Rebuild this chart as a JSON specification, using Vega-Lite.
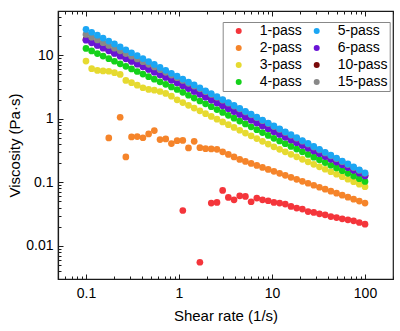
{
"$schema": "https://vega.github.io/schema/vega-lite/v6.json",
"width": 335, "height": 268,
"autosize": {"type": "none"},
"padding": {"left": 58, "top": 11, "right": 7, "bottom": 52},
"config": {
 "font": "Liberation Sans",
 "view": {"stroke": "#1a1a1a", "strokeWidth": 1.2},
 "axis": {"grid": false, "domainColor": "#1a1a1a", "domainWidth": 1.2, "tickColor": "#1a1a1a", "tickWidth": 1, "labelColor": "black", "titleColor": "black", "labelFontSize": 14, "titleFontSize": 15, "titleFontWeight": "normal", "labelFont": "Liberation Sans", "titleFont": "Liberation Sans"}
},
"data": {"values": [
{"s":"1-pass","x":1.099,"y":0.03597},{"s":"1-pass","x":1.677,"y":0.005508},{"s":"1-pass","x":2.223,"y":0.0471},{"s":"1-pass","x":2.56,"y":0.04819},{"s":"1-pass","x":2.947,"y":0.07447},{"s":"1-pass","x":3.393,"y":0.05781},{"s":"1-pass","x":3.907,"y":0.05309},{"s":"1-pass","x":4.498,"y":0.06138},{"s":"1-pass","x":5.179,"y":0.05998},{"s":"1-pass","x":5.964,"y":0.04943},{"s":"1-pass","x":6.866,"y":0.05649},{"s":"1-pass","x":7.906,"y":0.05309},{"s":"1-pass","x":9.103,"y":0.05129},{"s":"1-pass","x":10.48,"y":0.04819},{"s":"1-pass","x":12.07,"y":0.0471},{"s":"1-pass","x":13.89,"y":0.04539},{"s":"1-pass","x":16,"y":0.04169},{"s":"1-pass","x":18.42,"y":0.03926},{"s":"1-pass","x":21.21,"y":0.03784},{"s":"1-pass","x":24.42,"y":0.03467},{"s":"1-pass","x":28.12,"y":0.0335},{"s":"1-pass","x":32.37,"y":0.03192},{"s":"1-pass","x":37.28,"y":0.03076},{"s":"1-pass","x":42.92,"y":0.02891},{"s":"1-pass","x":49.42,"y":0.02786},{"s":"1-pass","x":56.9,"y":0.02661},{"s":"1-pass","x":65.51,"y":0.02564},{"s":"1-pass","x":75.43,"y":0.02472},{"s":"1-pass","x":86.85,"y":0.02328},{"s":"1-pass","x":100,"y":0.02193},
{"s":"2-pass","x":0.1758,"y":0.5012},{"s":"2-pass","x":0.233,"y":1.059},{"s":"2-pass","x":0.2683,"y":0.2512},{"s":"2-pass","x":0.3089,"y":0.52},{"s":"2-pass","x":0.3556,"y":0.5248},{"s":"2-pass","x":0.4095,"y":0.5035},{"s":"2-pass","x":0.4715,"y":0.5794},{"s":"2-pass","x":0.5429,"y":0.6531},{"s":"2-pass","x":0.6251,"y":0.471},{"s":"2-pass","x":0.7197,"y":0.4831},{"s":"2-pass","x":0.8286,"y":0.4074},{"s":"2-pass","x":0.9541,"y":0.4539},{"s":"2-pass","x":1.099,"y":0.4571},{"s":"2-pass","x":1.265,"y":0.3483},{"s":"2-pass","x":1.456,"y":0.4426},{"s":"2-pass","x":1.677,"y":0.3508},{"s":"2-pass","x":1.931,"y":0.3388},{"s":"2-pass","x":2.223,"y":0.3357},{"s":"2-pass","x":2.56,"y":0.3311},{"s":"2-pass","x":2.947,"y":0.302},{"s":"2-pass","x":3.393,"y":0.2754},{"s":"2-pass","x":3.907,"y":0.2512},{"s":"2-pass","x":4.498,"y":0.2291},{"s":"2-pass","x":5.179,"y":0.2132},{"s":"2-pass","x":5.964,"y":0.1984},{"s":"2-pass","x":6.866,"y":0.1846},{"s":"2-pass","x":7.906,"y":0.1718},{"s":"2-pass","x":9.103,"y":0.1599},{"s":"2-pass","x":10.48,"y":0.1488},{"s":"2-pass","x":12.07,"y":0.1384},{"s":"2-pass","x":13.89,"y":0.1288},{"s":"2-pass","x":16,"y":0.1199},{"s":"2-pass","x":18.42,"y":0.1116},{"s":"2-pass","x":21.21,"y":0.1038},{"s":"2-pass","x":24.42,"y":0.09665},{"s":"2-pass","x":28.12,"y":0.08995},{"s":"2-pass","x":32.37,"y":0.0837},{"s":"2-pass","x":37.28,"y":0.07788},{"s":"2-pass","x":42.92,"y":0.07248},{"s":"2-pass","x":49.42,"y":0.06745},{"s":"2-pass","x":56.9,"y":0.06277},{"s":"2-pass","x":65.51,"y":0.05841},{"s":"2-pass","x":75.43,"y":0.05435},{"s":"2-pass","x":86.85,"y":0.05059},{"s":"2-pass","x":100,"y":0.04708},
{"s":"3-pass","x":0.1,"y":8.128},{"s":"3-pass","x":0.1151,"y":6.166},{"s":"3-pass","x":0.1326,"y":5.781},{"s":"3-pass","x":0.1526,"y":5.689},{"s":"3-pass","x":0.1758,"y":5.623},{"s":"3-pass","x":0.2024,"y":5.333},{"s":"3-pass","x":0.233,"y":5.012},{"s":"3-pass","x":0.2683,"y":4.027},{"s":"3-pass","x":0.3089,"y":3.707},{"s":"3-pass","x":0.3556,"y":3.396},{"s":"3-pass","x":0.4095,"y":3.09},{"s":"3-pass","x":0.4715,"y":2.904},{"s":"3-pass","x":0.5429,"y":2.831},{"s":"3-pass","x":0.6251,"y":2.698},{"s":"3-pass","x":0.7197,"y":2.512},{"s":"3-pass","x":0.8286,"y":2.275},{"s":"3-pass","x":0.9541,"y":1.995},{"s":"3-pass","x":1.099,"y":1.806},{"s":"3-pass","x":1.265,"y":1.634},{"s":"3-pass","x":1.456,"y":1.477},{"s":"3-pass","x":1.677,"y":1.336},{"s":"3-pass","x":1.931,"y":1.208},{"s":"3-pass","x":2.223,"y":1.093},{"s":"3-pass","x":2.56,"y":0.9886},{"s":"3-pass","x":2.947,"y":0.8941},{"s":"3-pass","x":3.393,"y":0.8087},{"s":"3-pass","x":3.907,"y":0.7313},{"s":"3-pass","x":4.498,"y":0.6613},{"s":"3-pass","x":5.179,"y":0.598},{"s":"3-pass","x":5.964,"y":0.5409},{"s":"3-pass","x":6.866,"y":0.4894},{"s":"3-pass","x":7.906,"y":0.4426},{"s":"3-pass","x":9.103,"y":0.4002},{"s":"3-pass","x":10.48,"y":0.362},{"s":"3-pass","x":12.07,"y":0.3308},{"s":"3-pass","x":13.89,"y":0.3021},{"s":"3-pass","x":16,"y":0.2761},{"s":"3-pass","x":18.42,"y":0.2522},{"s":"3-pass","x":21.21,"y":0.2305},{"s":"3-pass","x":24.42,"y":0.2105},{"s":"3-pass","x":28.12,"y":0.1923},{"s":"3-pass","x":32.37,"y":0.1758},{"s":"3-pass","x":37.28,"y":0.1606},{"s":"3-pass","x":42.92,"y":0.1467},{"s":"3-pass","x":49.42,"y":0.134},{"s":"3-pass","x":56.9,"y":0.1225},{"s":"3-pass","x":65.51,"y":0.1119},{"s":"3-pass","x":75.43,"y":0.1022},{"s":"3-pass","x":86.85,"y":0.09339},{"s":"3-pass","x":100,"y":0.08533},
{"s":"4-pass","x":0.1,"y":12.88},{"s":"4-pass","x":0.1151,"y":11.74},{"s":"4-pass","x":0.1326,"y":10.69},{"s":"4-pass","x":0.1526,"y":9.741},{"s":"4-pass","x":0.1758,"y":8.875},{"s":"4-pass","x":0.2024,"y":8.083},{"s":"4-pass","x":0.233,"y":7.364},{"s":"4-pass","x":0.2683,"y":6.71},{"s":"4-pass","x":0.3089,"y":6.112},{"s":"4-pass","x":0.3556,"y":5.568},{"s":"4-pass","x":0.4095,"y":5.073},{"s":"4-pass","x":0.4715,"y":4.622},{"s":"4-pass","x":0.5429,"y":4.21},{"s":"4-pass","x":0.6251,"y":3.835},{"s":"4-pass","x":0.7197,"y":3.494},{"s":"4-pass","x":0.8286,"y":3.184},{"s":"4-pass","x":0.9541,"y":2.9},{"s":"4-pass","x":1.099,"y":2.614},{"s":"4-pass","x":1.265,"y":2.355},{"s":"4-pass","x":1.456,"y":2.122},{"s":"4-pass","x":1.677,"y":1.912},{"s":"4-pass","x":1.931,"y":1.723},{"s":"4-pass","x":2.223,"y":1.553},{"s":"4-pass","x":2.56,"y":1.399},{"s":"4-pass","x":2.947,"y":1.261},{"s":"4-pass","x":3.393,"y":1.136},{"s":"4-pass","x":3.907,"y":1.024},{"s":"4-pass","x":4.498,"y":0.9226},{"s":"4-pass","x":5.179,"y":0.8315},{"s":"4-pass","x":5.964,"y":0.7494},{"s":"4-pass","x":6.866,"y":0.6751},{"s":"4-pass","x":7.906,"y":0.6084},{"s":"4-pass","x":9.103,"y":0.5482},{"s":"4-pass","x":10.48,"y":0.494},{"s":"4-pass","x":12.07,"y":0.4478},{"s":"4-pass","x":13.89,"y":0.4062},{"s":"4-pass","x":16,"y":0.3684},{"s":"4-pass","x":18.42,"y":0.3341},{"s":"4-pass","x":21.21,"y":0.3029},{"s":"4-pass","x":24.42,"y":0.2747},{"s":"4-pass","x":28.12,"y":0.2491},{"s":"4-pass","x":32.37,"y":0.2259},{"s":"4-pass","x":37.28,"y":0.2048},{"s":"4-pass","x":42.92,"y":0.1857},{"s":"4-pass","x":49.42,"y":0.1684},{"s":"4-pass","x":56.9,"y":0.1528},{"s":"4-pass","x":65.51,"y":0.1385},{"s":"4-pass","x":75.43,"y":0.1256},{"s":"4-pass","x":86.85,"y":0.1139},{"s":"4-pass","x":100,"y":0.1033},
{"s":"10-pass","x":0.1,"y":17.73},{"s":"10-pass","x":0.1151,"y":16.1},{"s":"10-pass","x":0.1326,"y":14.61},{"s":"10-pass","x":0.1526,"y":13.26},{"s":"10-pass","x":0.1758,"y":12.04},{"s":"10-pass","x":0.2024,"y":10.92},{"s":"10-pass","x":0.233,"y":9.917},{"s":"10-pass","x":0.2683,"y":9.0},{"s":"10-pass","x":0.3089,"y":8.169},{"s":"10-pass","x":0.3556,"y":7.416},{"s":"10-pass","x":0.4095,"y":6.731},{"s":"10-pass","x":0.4715,"y":6.113},{"s":"10-pass","x":0.5429,"y":5.548},{"s":"10-pass","x":0.6251,"y":5.036},{"s":"10-pass","x":0.7197,"y":4.571},{"s":"10-pass","x":0.8286,"y":4.149},{"s":"10-pass","x":0.9541,"y":3.767},{"s":"10-pass","x":1.099,"y":3.395},{"s":"10-pass","x":1.265,"y":3.059},{"s":"10-pass","x":1.456,"y":2.756},{"s":"10-pass","x":1.677,"y":2.484},{"s":"10-pass","x":1.931,"y":2.238},{"s":"10-pass","x":2.223,"y":2.017},{"s":"10-pass","x":2.56,"y":1.818},{"s":"10-pass","x":2.947,"y":1.638},{"s":"10-pass","x":3.393,"y":1.476},{"s":"10-pass","x":3.907,"y":1.33},{"s":"10-pass","x":4.498,"y":1.199},{"s":"10-pass","x":5.179,"y":1.08},{"s":"10-pass","x":5.964,"y":0.9732},{"s":"10-pass","x":6.866,"y":0.8768},{"s":"10-pass","x":7.906,"y":0.7901},{"s":"10-pass","x":9.103,"y":0.7121},{"s":"10-pass","x":10.48,"y":0.6416},{"s":"10-pass","x":12.07,"y":0.5804},{"s":"10-pass","x":13.89,"y":0.5249},{"s":"10-pass","x":16,"y":0.4747},{"s":"10-pass","x":18.42,"y":0.4293},{"s":"10-pass","x":21.21,"y":0.3883},{"s":"10-pass","x":24.42,"y":0.3512},{"s":"10-pass","x":28.12,"y":0.3176},{"s":"10-pass","x":32.37,"y":0.2874},{"s":"10-pass","x":37.28,"y":0.2599},{"s":"10-pass","x":42.92,"y":0.2351},{"s":"10-pass","x":49.42,"y":0.2127},{"s":"10-pass","x":56.9,"y":0.1924},{"s":"10-pass","x":65.51,"y":0.1739},{"s":"10-pass","x":75.43,"y":0.1574},{"s":"10-pass","x":86.85,"y":0.1423},{"s":"10-pass","x":100,"y":0.1287},
{"s":"6-pass","x":0.1,"y":17.38},{"s":"6-pass","x":0.1151,"y":15.78},{"s":"6-pass","x":0.1326,"y":14.32},{"s":"6-pass","x":0.1526,"y":13.0},{"s":"6-pass","x":0.1758,"y":11.8},{"s":"6-pass","x":0.2024,"y":10.71},{"s":"6-pass","x":0.233,"y":9.723},{"s":"6-pass","x":0.2683,"y":8.824},{"s":"6-pass","x":0.3089,"y":8.009},{"s":"6-pass","x":0.3556,"y":7.271},{"s":"6-pass","x":0.4095,"y":6.599},{"s":"6-pass","x":0.4715,"y":5.993},{"s":"6-pass","x":0.5429,"y":5.439},{"s":"6-pass","x":0.6251,"y":4.937},{"s":"6-pass","x":0.7197,"y":4.481},{"s":"6-pass","x":0.8286,"y":4.068},{"s":"6-pass","x":0.9541,"y":3.693},{"s":"6-pass","x":1.099,"y":3.328},{"s":"6-pass","x":1.265,"y":2.999},{"s":"6-pass","x":1.456,"y":2.702},{"s":"6-pass","x":1.677,"y":2.435},{"s":"6-pass","x":1.931,"y":2.194},{"s":"6-pass","x":2.223,"y":1.977},{"s":"6-pass","x":2.56,"y":1.782},{"s":"6-pass","x":2.947,"y":1.606},{"s":"6-pass","x":3.393,"y":1.447},{"s":"6-pass","x":3.907,"y":1.304},{"s":"6-pass","x":4.498,"y":1.175},{"s":"6-pass","x":5.179,"y":1.059},{"s":"6-pass","x":5.964,"y":0.9541},{"s":"6-pass","x":6.866,"y":0.8596},{"s":"6-pass","x":7.906,"y":0.7746},{"s":"6-pass","x":9.103,"y":0.6981},{"s":"6-pass","x":10.48,"y":0.629},{"s":"6-pass","x":12.07,"y":0.569},{"s":"6-pass","x":13.89,"y":0.5146},{"s":"6-pass","x":16,"y":0.4654},{"s":"6-pass","x":18.42,"y":0.4209},{"s":"6-pass","x":21.21,"y":0.3807},{"s":"6-pass","x":24.42,"y":0.3443},{"s":"6-pass","x":28.12,"y":0.3114},{"s":"6-pass","x":32.37,"y":0.2818},{"s":"6-pass","x":37.28,"y":0.2548},{"s":"6-pass","x":42.92,"y":0.2305},{"s":"6-pass","x":49.42,"y":0.2085},{"s":"6-pass","x":56.9,"y":0.1886},{"s":"6-pass","x":65.51,"y":0.1705},{"s":"6-pass","x":75.43,"y":0.1543},{"s":"6-pass","x":86.85,"y":0.1395},{"s":"6-pass","x":100,"y":0.1262},
{"s":"15-pass","x":0.1,"y":21.38},{"s":"15-pass","x":0.1151,"y":19.34},{"s":"15-pass","x":0.1326,"y":17.49},{"s":"15-pass","x":0.1526,"y":15.83},{"s":"15-pass","x":0.1758,"y":14.31},{"s":"15-pass","x":0.2024,"y":12.99},{"s":"15-pass","x":0.233,"y":11.78},{"s":"15-pass","x":0.2683,"y":10.68},{"s":"15-pass","x":0.3089,"y":9.691},{"s":"15-pass","x":0.3556,"y":8.793},{"s":"15-pass","x":0.4095,"y":7.962},{"s":"15-pass","x":0.4715,"y":7.224},{"s":"15-pass","x":0.5429,"y":6.558},{"s":"15-pass","x":0.6251,"y":5.951},{"s":"15-pass","x":0.7197,"y":5.402},{"s":"15-pass","x":0.8286,"y":4.892},{"s":"15-pass","x":0.9541,"y":4.44},{"s":"15-pass","x":1.099,"y":4.02},{"s":"15-pass","x":1.265,"y":3.632},{"s":"15-pass","x":1.456,"y":3.289},{"s":"15-pass","x":1.677,"y":2.972},{"s":"15-pass","x":1.931,"y":2.678},{"s":"15-pass","x":2.223,"y":2.42},{"s":"15-pass","x":2.56,"y":2.181},{"s":"15-pass","x":2.947,"y":1.966},{"s":"15-pass","x":3.393,"y":1.768},{"s":"15-pass","x":3.907,"y":1.59},{"s":"15-pass","x":4.498,"y":1.43},{"s":"15-pass","x":5.179,"y":1.286},{"s":"15-pass","x":5.964,"y":1.156},{"s":"15-pass","x":6.866,"y":1.04},{"s":"15-pass","x":7.906,"y":0.9352},{"s":"15-pass","x":9.103,"y":0.841},{"s":"15-pass","x":10.48,"y":0.7563},{"s":"15-pass","x":12.07,"y":0.6801},{"s":"15-pass","x":13.89,"y":0.6116},{"s":"15-pass","x":16,"y":0.5501},{"s":"15-pass","x":18.42,"y":0.4947},{"s":"15-pass","x":21.21,"y":0.4448},{"s":"15-pass","x":24.42,"y":0.4001},{"s":"15-pass","x":28.12,"y":0.3597},{"s":"15-pass","x":32.37,"y":0.3236},{"s":"15-pass","x":37.28,"y":0.2909},{"s":"15-pass","x":42.92,"y":0.2616},{"s":"15-pass","x":49.42,"y":0.2353},{"s":"15-pass","x":56.9,"y":0.2116},{"s":"15-pass","x":65.51,"y":0.1903},{"s":"15-pass","x":75.43,"y":0.1711},{"s":"15-pass","x":86.85,"y":0.1539},{"s":"15-pass","x":100,"y":0.1384},
{"s":"5-pass","x":0.1,"y":25.7},{"s":"5-pass","x":0.1151,"y":23.12},{"s":"5-pass","x":0.1326,"y":20.79},{"s":"5-pass","x":0.1526,"y":18.7},{"s":"5-pass","x":0.1758,"y":16.81},{"s":"5-pass","x":0.2024,"y":15.12},{"s":"5-pass","x":0.233,"y":13.59},{"s":"5-pass","x":0.2683,"y":12.23},{"s":"5-pass","x":0.3089,"y":11.0},{"s":"5-pass","x":0.3556,"y":9.888},{"s":"5-pass","x":0.4095,"y":8.892},{"s":"5-pass","x":0.4715,"y":7.995},{"s":"5-pass","x":0.5429,"y":7.191},{"s":"5-pass","x":0.6251,"y":6.466},{"s":"5-pass","x":0.7197,"y":5.815},{"s":"5-pass","x":0.8286,"y":5.23},{"s":"5-pass","x":0.9541,"y":4.703},{"s":"5-pass","x":1.099,"y":4.229},{"s":"5-pass","x":1.265,"y":3.803},{"s":"5-pass","x":1.456,"y":3.42},{"s":"5-pass","x":1.677,"y":3.076},{"s":"5-pass","x":1.931,"y":2.766},{"s":"5-pass","x":2.223,"y":2.488},{"s":"5-pass","x":2.56,"y":2.237},{"s":"5-pass","x":2.947,"y":2.012},{"s":"5-pass","x":3.393,"y":1.809},{"s":"5-pass","x":3.907,"y":1.627},{"s":"5-pass","x":4.498,"y":1.463},{"s":"5-pass","x":5.179,"y":1.316},{"s":"5-pass","x":5.964,"y":1.183},{"s":"5-pass","x":6.866,"y":1.064},{"s":"5-pass","x":7.906,"y":0.957},{"s":"5-pass","x":9.103,"y":0.8606},{"s":"5-pass","x":10.48,"y":0.7739},{"s":"5-pass","x":12.07,"y":0.696},{"s":"5-pass","x":13.89,"y":0.6259},{"s":"5-pass","x":16,"y":0.5629},{"s":"5-pass","x":18.42,"y":0.5062},{"s":"5-pass","x":21.21,"y":0.4552},{"s":"5-pass","x":24.42,"y":0.4094},{"s":"5-pass","x":28.12,"y":0.3681},{"s":"5-pass","x":32.37,"y":0.3311},{"s":"5-pass","x":37.28,"y":0.2977},{"s":"5-pass","x":42.92,"y":0.2677},{"s":"5-pass","x":49.42,"y":0.2408},{"s":"5-pass","x":56.9,"y":0.2165},{"s":"5-pass","x":65.51,"y":0.1947},{"s":"5-pass","x":75.43,"y":0.1751},{"s":"5-pass","x":86.85,"y":0.1575},{"s":"5-pass","x":100,"y":0.1416}
]},
"layer": [
 {
  "mark": {"type": "circle", "size": 45, "opacity": 1},
  "encoding": {
   "x": {"field": "x", "type": "quantitative",
    "scale": {"type": "log", "domain": [0.05, 200], "nice": false},
    "axis": {"orient": "bottom", "title": "Shear rate (1/s)",
     "values": [0.05,0.06,0.07,0.08,0.09,0.1,0.2,0.3,0.4,0.5,0.6,0.7,0.8,0.9,1,2,3,4,5,6,7,8,9,10,20,30,40,50,60,70,80,90,100,200],
     "format": "~g",
     "labelExpr": "(datum.value==0.1||datum.value==1||datum.value==10||datum.value==100)?datum.label:''",
     "tickSize": {"condition": {"test": "datum.value==0.1||datum.value==1||datum.value==10||datum.value==100", "value": -5}, "value": -3},
     "labelPadding": 12, "labelOverlap": false, "labelFlush": false, "titlePadding": 6}},
   "y": {"field": "y", "type": "quantitative",
    "scale": {"type": "log", "domain": [0.003, 50], "nice": false},
    "axis": {"orient": "left", "title": "Viscosity (Pa·s)",
     "values": [0.003,0.004,0.005,0.006,0.007,0.008,0.009,0.01,0.02,0.03,0.04,0.05,0.06,0.07,0.08,0.09,0.1,0.2,0.3,0.4,0.5,0.6,0.7,0.8,0.9,1,2,3,4,5,6,7,8,9,10,20,30,40,50],
     "format": "~g",
     "labelExpr": "(datum.value==0.01||datum.value==0.1||datum.value==1||datum.value==10)?datum.label:''",
     "tickSize": {"condition": {"test": "datum.value==0.01||datum.value==0.1||datum.value==1||datum.value==10", "value": -5}, "value": -3},
     "labelPadding": 10, "labelOverlap": false, "labelFlush": false, "titlePadding": 3}},
   "color": {"field": "s", "type": "nominal",
    "scale": {"domain": ["1-pass","2-pass","3-pass","4-pass","5-pass","6-pass","10-pass","15-pass"],
     "range": ["#f4353b","#f5842a","#e6da30","#14d11a","#1ba6f4","#6a14d6","#7a0a0a","#888888"]},
    "legend": {"orient": "none", "legendX": 164.7, "legendY": 11, "columns": 2, "gridAlign": "all",
     "title": " ", "titleOrient": "left", "titlePadding": 7, "titleFontSize": 14,
     "symbolType": "circle", "symbolSize": 36, "symbolStrokeWidth": 0,
     "labelFontSize": 14, "labelFont": "Liberation Sans", "labelColor": "black", "rowPadding": 3, "columnPadding": 0, "labelOffset": 14,
     "padding": 2, "strokeColor": "#888888", "fillColor": "white"}}
  }
 },
 {
  "mark": {"type": "circle", "opacity": 0},
  "encoding": {
   "x": {"field": "x", "type": "quantitative",
    "scale": {"type": "log", "domain": [0.05, 200], "nice": false},
    "axis": {"orient": "top", "title": null, "labels": false,
     "values": [0.05,0.06,0.07,0.08,0.09,0.1,0.2,0.3,0.4,0.5,0.6,0.7,0.8,0.9,1,2,3,4,5,6,7,8,9,10,20,30,40,50,60,70,80,90,100,200],
     "tickSize": {"condition": {"test": "datum.value==0.1||datum.value==1||datum.value==10||datum.value==100", "value": -5}, "value": -3}}},
   "y": {"field": "y", "type": "quantitative", "scale": {"type": "log", "domain": [0.003, 50], "nice": false}}
  }
 }
],
"resolve": {"axis": {"x": "independent"}}
}
